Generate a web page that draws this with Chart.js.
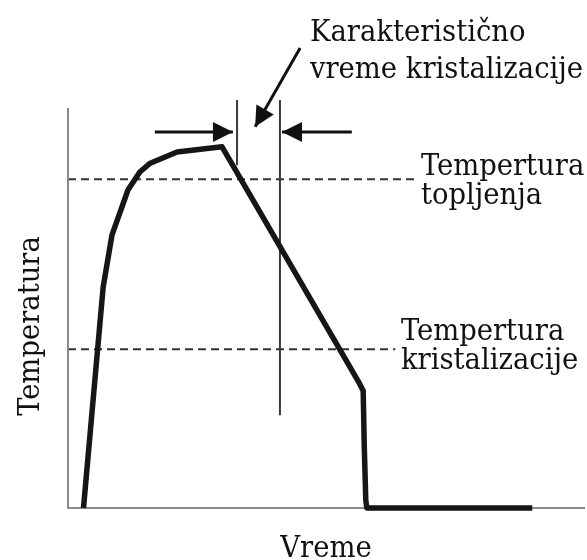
<!DOCTYPE html>
<html>
<head>
<meta charset="utf-8">
<script src="https://cdn.jsdelivr.net/npm/chart.js@4"></script>
<style>
  html, body { margin: 0; padding: 0; background: #fff; }
  #wrap { width: 587px; height: 560px; }
</style>
</head>
<body>
<div id="wrap"><canvas id="chart" width="587" height="560"></canvas></div>
<script>
// cooling curve (time / temperature, arbitrary units 0..100)
const curveTime = [3, 6.8, 8.5, 11.6, 13.9, 15.9, 21.1, 29.8, 56.1, 57.1, 57.3, 57.6, 57.8, 89.8];
const curveTemp = [0, 55.2, 68.2, 79.5, 84, 86.2, 89, 90.3, 31.8, 29.3, 15.8, 2, 0, 0];

// reference levels
const meltTemp = 82.2;
const meltLineEnd = 67.5;
const crystTemp = 39.7;
const crystLineEnd = 63.3;

// characteristic crystallization time window
const windowStart = 32.7;
const windowEnd = 41.0;
const windowTop = 102;
const windowStartBottom = 85.7;
const windowEndBottom = 23.2;

// arrows [tailX, tailY, tipX, tipY]
const arrowLeft = [16.8, 94, 31.9, 94];
const arrowRight = [54.9, 94, 41.4, 94];
const arrowNote = [44.9, 115, 36.2, 95.3];

const FONT = '"DejaVu Serif Condensed", "DejaVu Serif", serif';

const pts = (xs, ys) => xs.map((x, i) => ({ x, y: ys[i] }));
const seg = (x1, y1, x2, y2) => [{ x: x1, y: y1 }, { x: x2, y: y2 }];

const base = { pointRadius: 0, tension: 0, fill: false };

// chart.js paints the first dataset on top, so the curve goes first
const datasets = [
  { ...base, data: pts(curveTime, curveTemp), borderColor: "#161616", borderWidth: 5.5, borderJoinStyle: "round", borderCapStyle: "butt" },
  { ...base, data: [{ x: 0, y: 100 }, { x: 0, y: 0 }, { x: 100, y: 0 }], borderColor: "#8a8a8a", borderWidth: 2 },
  { ...base, data: seg(0, meltTemp, meltLineEnd, meltTemp), borderColor: "#333", borderWidth: 2, borderDash: [8, 5] },
  { ...base, data: seg(0, crystTemp, crystLineEnd, crystTemp), borderColor: "#333", borderWidth: 2, borderDash: [8, 5] },
  { ...base, data: seg(windowStart, windowTop, windowStart, windowStartBottom), borderColor: "#3a3a3a", borderWidth: 2 },
  { ...base, data: seg(windowEnd, windowTop, windowEnd, windowEndBottom), borderColor: "#3a3a3a", borderWidth: 2 },
  { ...base, data: seg(...arrowLeft), borderColor: "#111", borderWidth: 3, arrow: true },
  { ...base, data: seg(...arrowRight), borderColor: "#111", borderWidth: 3, arrow: true },
  { ...base, data: seg(...arrowNote), borderColor: "#111", borderWidth: 3, arrow: true }
];

const arrowHeads = {
  id: "arrowHeads",
  afterDatasetsDraw(chart) {
    const ctx = chart.ctx;
    chart.data.datasets.forEach((ds, i) => {
      if (!ds.arrow) return;
      const els = chart.getDatasetMeta(i).data;
      const a = els[els.length - 2], b = els[els.length - 1];
      const ang = Math.atan2(b.y - a.y, b.x - a.x);
      const len = 20, half = 10;
      ctx.save();
      ctx.translate(b.x, b.y);
      ctx.rotate(ang);
      ctx.fillStyle = "#111";
      ctx.beginPath();
      ctx.moveTo(0, 0);
      ctx.lineTo(-len, -half);
      ctx.lineTo(-len, half);
      ctx.closePath();
      ctx.fill();
      ctx.restore();
    });
  }
};

const labels = {
  id: "labels",
  afterDraw(chart) {
    const ctx = chart.ctx;
    ctx.save();
    ctx.fillStyle = "#111";
    ctx.font = "30.5px " + FONT;
    ctx.textAlign = "left";
    ctx.textBaseline = "alphabetic";
    ctx.fillText("Karakteristično", 310, 41);
    ctx.fillText("vreme kristalizacije", 310, 78);
    ctx.fillText("Tempertura", 421, 175);
    ctx.fillText("topljenja", 421, 204);
    ctx.fillText("Tempertura", 401, 340);
    ctx.fillText("kristalizacije", 401, 369);
    ctx.textAlign = "center";
    ctx.fillText("Vreme", 326, 557);
    ctx.translate(39, 326);
    ctx.rotate(-Math.PI / 2);
    ctx.fillText("Temperatura", 0, 0);
    ctx.restore();
  }
};

new Chart(document.getElementById("chart").getContext("2d"), {
  type: "line",
  data: { datasets },
  options: {
    responsive: false,
    animation: false,
    layout: { padding: 0, autoPadding: false },
    plugins: { legend: { display: false }, tooltip: { enabled: false } },
    scales: {
      x: { type: "linear", min: -13.15, max: 100.39, display: false },
      y: { type: "linear", min: -13, max: 127, display: false }
    }
  },
  plugins: [arrowHeads, labels]
});
</script>
</body>
</html>
